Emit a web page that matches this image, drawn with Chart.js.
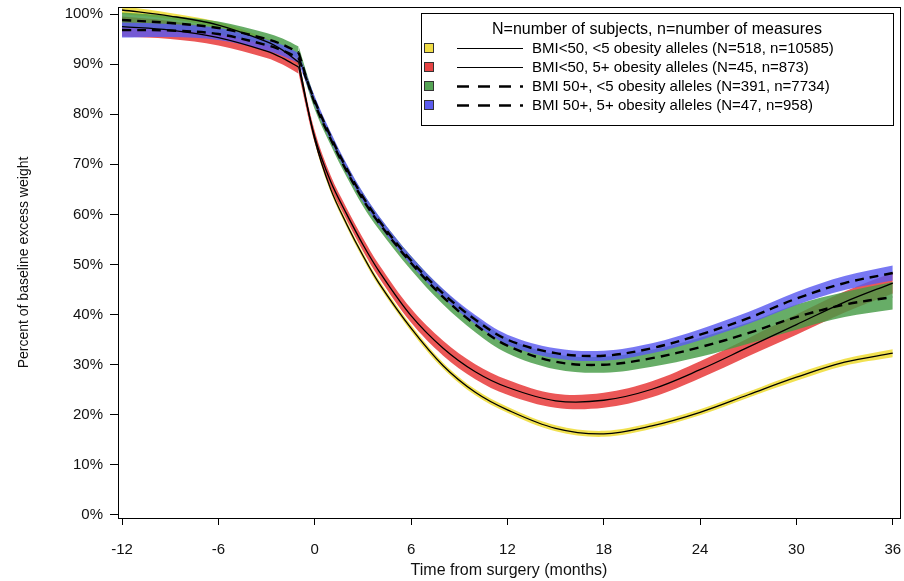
<!DOCTYPE html>
<html>
<head>
<meta charset="utf-8">
<script src="https://cdn.jsdelivr.net/npm/chart.js@4.4.1/dist/chart.umd.min.js"></script>
<style>
  html, body { margin: 0; padding: 0; background: #fff; }
  #wrap { width: 904px; height: 581px; }
</style>
</head>
<body>
<div id="wrap"><canvas id="myChart" width="904" height="581"></canvas></div>
<script>
// months relative to surgery (index 5 = month -1, where the curves bend)
const months = [-12, -9, -6, -3, -2, -1, 0, 1, 2, 3, 4, 6, 8, 10, 12, 15, 18, 21, 24, 27, 30, 33, 36];

// BMI<50, <5 alleles (yellow)
const yellowMean = [100.8, 99.6, 97.8, 94.5, 92.8, 90.4, 75.0, 65.0, 58.0, 51.8, 46.3, 37.3, 29.8, 24.5, 21.0, 17.3, 16.2, 17.8, 20.5, 24.0, 27.5, 30.5, 32.3];
const yellowLow  = [100.0, 99.0, 97.2, 93.9, 92.2, 89.8, 74.4, 64.4, 57.4, 51.2, 45.7, 36.7, 29.2, 23.9, 20.4, 16.7, 15.6, 17.2, 19.9, 23.4, 26.8, 29.8, 31.5];
const yellowHigh = [101.6, 100.2, 98.4, 95.1, 93.4, 91.0, 75.6, 65.6, 58.6, 52.4, 46.9, 37.9, 30.4, 25.1, 21.6, 17.9, 16.8, 18.4, 21.1, 24.6, 28.2, 31.2, 33.1];

// BMI<50, 5+ alleles (red)
const redMean = [97.5, 96.8, 95.3, 92.6, 91.2, 89.4, 75.5, 66.5, 60.0, 54.0, 48.7, 39.8, 33.3, 28.6, 25.5, 22.8, 22.9, 25.1, 29.0, 33.5, 38.0, 42.5, 46.3];
const redLow  = [95.5, 95.0, 93.7, 91.2, 89.9, 88.1, 74.3, 65.3, 58.8, 52.7, 47.4, 38.4, 31.8, 27.1, 24.0, 21.4, 21.4, 23.5, 27.3, 31.7, 36.0, 40.4, 44.2];
const redHigh = [99.5, 98.6, 96.9, 94.0, 92.5, 90.7, 76.7, 67.7, 61.2, 55.3, 50.0, 41.2, 34.8, 30.1, 27.0, 24.2, 24.4, 26.7, 30.7, 35.3, 40.0, 44.6, 48.4];

// BMI 50+, <5 alleles (green)
const greenMean = [98.8, 98.2, 97.2, 95.0, 93.9, 92.3, 82.2, 75.0, 68.6, 63.0, 58.3, 50.3, 43.5, 38.0, 33.8, 30.6, 30.0, 31.3, 33.5, 36.3, 39.5, 42.0, 43.5];
const greenLow  = [97.3, 96.8, 95.9, 93.8, 92.7, 91.1, 81.0, 73.8, 67.4, 61.7, 57.0, 48.9, 42.0, 36.5, 32.3, 29.1, 28.4, 29.6, 31.6, 34.2, 37.0, 39.5, 41.0];
const greenHigh = [100.3, 99.6, 98.5, 96.2, 95.1, 93.5, 83.4, 76.2, 69.8, 64.3, 59.6, 51.7, 45.0, 39.5, 35.3, 32.1, 31.6, 33.0, 35.4, 38.4, 42.0, 44.5, 46.5];

// BMI 50+, 5+ alleles (blue)
const blueMean = [96.8, 96.7, 96.0, 93.8, 92.7, 91.2, 82.7, 75.5, 69.1, 63.5, 58.8, 50.8, 44.2, 39.0, 35.0, 32.3, 31.8, 33.3, 36.0, 39.3, 43.2, 46.3, 48.3];
const blueLow  = [95.3, 95.4, 94.8, 92.7, 91.6, 90.2, 81.8, 74.6, 68.2, 62.6, 57.9, 49.9, 43.3, 38.1, 34.0, 31.3, 30.8, 32.3, 34.9, 38.1, 41.9, 44.9, 46.8];
const blueHigh = [98.3, 98.0, 97.2, 94.9, 93.8, 92.2, 83.6, 76.4, 70.0, 64.4, 59.7, 51.7, 45.1, 39.9, 36.0, 33.3, 32.8, 34.3, 37.1, 40.5, 44.5, 47.7, 49.8];

const seriesLabels = [
    "BMI<50, <5 obesity alleles (N=518, n=10585)",
    "BMI<50, 5+ obesity alleles (N=45, n=873)",
    "BMI 50+, <5 obesity alleles (N=391, n=7734)",
    "BMI 50+, 5+ obesity alleles (N=47, n=958)"
];
const legendTitle = "N=number of subjects, n=number of measures";
const yTicks = [0, 10, 20, 30, 40, 50, 60, 70, 80, 90, 100];
const xTicks = [-12, -6, 0, 6, 12, 18, 24, 30, 36];

const bandColors = ["rgba(238,220,50,0.85)", "rgba(230,50,50,0.82)", "rgba(70,155,70,0.82)", "rgba(90,90,240,0.82)"];
const swatchColors = ["#f0dc46", "#e64444", "#56a456", "#5c5cee"];
const lineDash = [[], [], [9, 6], [9, 6]];

const KINK = 5;  // index of month -1
// two pieces per curve so the bend at surgery stays sharp
const pieces = [[0, KINK], [KINK, months.length - 1]];

function pts(arr, from, to) {
    const out = [];
    for (let i = from; i <= to; i++) out.push({ x: months[i], y: arr[i] });
    return out;
}

const groups = [
    [yellowMean, yellowLow, yellowHigh],
    [redMean, redLow, redHigh],
    [greenMean, greenLow, greenHigh],
    [blueMean, blueLow, blueHigh]
];

const datasets = [];
// mean lines on top
groups.forEach((g, i) => {
    pieces.forEach(p => {
        datasets.push({
            label: seriesLabels[i],
            data: pts(g[0], p[0], p[1]),
            borderColor: "#000",
            borderWidth: i < 2 ? 1.3 : 2.4,
            borderDash: lineDash[i],
            pointRadius: 0,
            fill: false,
            tension: 0.35,
            order: 0
        });
    });
});
// confidence bands, blue on top of green on top of red on top of yellow
groups.forEach((g, i) => {
    pieces.forEach(p => {
        datasets.push({
            label: "low" + i,
            data: pts(g[1], p[0], p[1]),
            borderWidth: 0,
            borderColor: "transparent",
            pointRadius: 0,
            fill: false,
            tension: 0.35,
            order: 4 - i
        });
        datasets.push({
            label: "high" + i,
            data: pts(g[2], p[0], p[1]),
            borderWidth: 0,
            borderColor: "transparent",
            backgroundColor: bandColors[i],
            pointRadius: 0,
            fill: "-1",
            tension: 0.35,
            order: 4 - i
        });
    });
});

const frameAndLegend = {
    id: "frameAndLegend",
    afterDraw(chart) {
        const ctx = chart.ctx;
        const a = chart.chartArea;
        ctx.save();
        ctx.strokeStyle = "#000";
        ctx.lineWidth = 1;
        ctx.strokeRect(Math.round(a.left) + 0.5, Math.round(a.top) + 0.5, Math.round(a.right - a.left), Math.round(a.bottom - a.top));

        // legend box
        const bx = 421, by = 13, bw = 472, bh = 112;
        ctx.fillStyle = "#fff";
        ctx.fillRect(bx, by, bw, bh);
        ctx.strokeRect(bx + 0.5, by + 0.5, bw, bh);

        ctx.fillStyle = "#000";
        ctx.font = "16px 'Liberation Sans', Arial, sans-serif";
        ctx.textAlign = "center";
        ctx.textBaseline = "middle";
        ctx.fillText(legendTitle, bx + bw / 2, 30);

        ctx.font = "15px 'Liberation Sans', Arial, sans-serif";
        ctx.textAlign = "left";
        for (let i = 0; i < seriesLabels.length; i++) {
            const y = 48 + i * 19;
            ctx.fillStyle = swatchColors[i];
            ctx.fillRect(424, y - 5, 10, 10);
            ctx.strokeStyle = "#333";
            ctx.lineWidth = 1;
            ctx.strokeRect(424.5, y - 4.5, 9, 9);

            ctx.strokeStyle = "#000";
            ctx.lineWidth = i < 2 ? 1.2 : 2.6;
            ctx.setLineDash(lineDash[i].length ? [12, 9] : []);
            ctx.beginPath();
            ctx.moveTo(457, y + 0.5);
            ctx.lineTo(523, y + 0.5);
            ctx.stroke();
            ctx.setLineDash([]);

            ctx.fillStyle = "#000";
            ctx.fillText(seriesLabels[i], 532, y + 1);
        }
        ctx.restore();
    }
};

const ctx = document.getElementById("myChart").getContext("2d");

window.myChart = new Chart(ctx, {
    type: "line",
    data: { datasets: datasets },
    plugins: [frameAndLegend],
    options: {
        responsive: false,
        animation: false,
        layout: { padding: { left: 10, top: 7, right: 4, bottom: 0 } },
        plugins: {
            legend: { display: false },
            tooltip: { enabled: false },
            filler: { propagate: false }
        },
        scales: {
            x: {
                type: "linear",
                min: -12.25,
                max: 36.45,
                afterBuildTicks: (scale) => { scale.ticks = xTicks.map(v => ({ value: v })); },
                afterFit: (scale) => {
                    scale.height = 63;
                    scale.paddingLeft = 0;
                    scale.paddingRight = 0;
                },
                border: { display: true, color: "#000" },
                grid: { drawOnChartArea: false, drawTicks: true, tickLength: 7, color: "#000" },
                ticks: {
                    color: "#111",
                    padding: 16,
                    font: { family: "'Liberation Sans', Arial, sans-serif", size: 15 }
                },
                title: {
                    display: true,
                    text: "Time from surgery (months)",
                    color: "#111",
                    padding: { top: 0, bottom: 1 },
                    font: { family: "'Liberation Sans', Arial, sans-serif", size: 16 }
                }
            },
            y: {
                min: -0.6,
                max: 101.4,
                afterBuildTicks: (scale) => { scale.ticks = yTicks.map(v => ({ value: v })); },
                afterFit: (scale) => {
                    scale.width = 108;
                    scale.paddingTop = 0;
                    scale.paddingBottom = 0;
                },
                border: { display: true, color: "#000" },
                grid: { drawOnChartArea: false, drawTicks: true, tickLength: 8, color: "#000" },
                ticks: {
                    color: "#111",
                    padding: 7,
                    font: { family: "'Liberation Sans', Arial, sans-serif", size: 15 },
                    callback: (v) => v + "%"
                },
                title: {
                    display: true,
                    text: "Percent of baseline excess weight",
                    color: "#111",
                    padding: { top: 6, bottom: 4 },
                    font: { family: "'Liberation Sans', Arial, sans-serif", size: 14 }
                }
            }
        }
    }
});
</script>
</body>
</html>
